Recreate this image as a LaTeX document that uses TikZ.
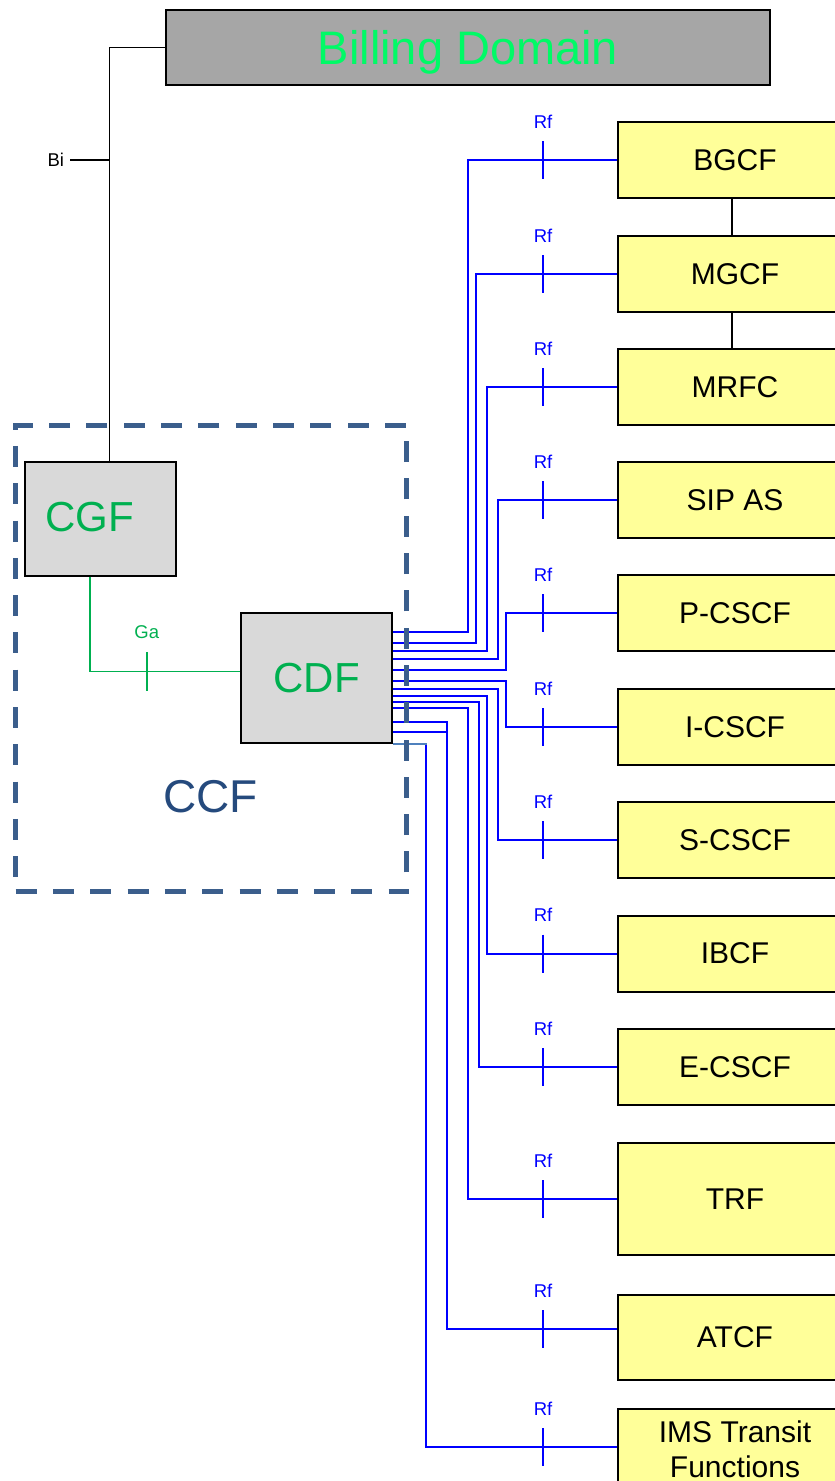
\documentclass[tikz,border=0pt]{standalone}
\usepackage{fontspec}
\setmainfont{Liberation Sans}
\definecolor{boxyellow}{HTML}{FFFF99}
\definecolor{boxgray}{HTML}{D9D9D9}
\definecolor{billgray}{HTML}{A6A6A6}
\definecolor{billgreen}{RGB}{0,250,102}
\definecolor{gagreen}{HTML}{00B050}
\definecolor{rfblue}{HTML}{0000FF}
\definecolor{steelblue}{HTML}{4F81BD}
\definecolor{ccfborder}{HTML}{3B5E8C}
\definecolor{ccftext}{RGB}{37,74,125}
\begin{document}
\begin{tikzpicture}[x=1pt,y=-1pt,
  fbox/.style={draw=black,line width=2pt,fill=boxyellow,minimum width=234pt,minimum height=76pt,inner sep=0pt,font=\fontsize{30}{35}\selectfont,align=center},
  gbox/.style={draw=black,line width=2pt,fill=boxgray,inner sep=0pt},
  rf/.style={draw=rfblue,line width=2pt},
  blk/.style={draw=black,line width=1.6pt},
  ga/.style={draw=gagreen,line width=1.6pt},
  lbl/.style={font=\fontsize{18.5}{20}\selectfont,inner sep=0pt},
  rflbl/.style={lbl,text=rfblue}
]
\fill[white] (0,0) rectangle (835,1481);
\clip (0,0) rectangle (835,1481);

% Billing domain
\node[draw=black,line width=2pt,fill=billgray,minimum width=604pt,minimum height=75.5pt,inner sep=0pt,
      text=billgreen,font=\fontsize{47}{50}\selectfont,text depth=0pt] (billing) at (468,47.3) {Billing Domain};

% right column boxes
\node[fbox] (bgcf)  at (735,160)   {BGCF};
\node[fbox] (mgcf)  at (735,274)   {MGCF};
\node[fbox] (mrfc)  at (735,387)   {MRFC};
\node[fbox] (sipas) at (735,500)   {SIP AS};
\node[fbox] (pcscf) at (735,613)   {P-CSCF};
\node[fbox] (icscf) at (735,727)   {I-CSCF};
\node[fbox] (scscf) at (735,840)   {S-CSCF};
\node[fbox] (ibcf)  at (735,953.5) {IBCF};
\node[fbox] (ecscf) at (735,1067)  {E-CSCF};
\node[fbox,minimum height=112pt] (trf)  at (735,1199)   {TRF};
\node[fbox,minimum height=85pt]  (atcf) at (735,1337.5) {ATCF};
\node[fbox,minimum height=80pt]  (ims)  at (735,1449)   {IMS Transit\\Functions};

\foreach \t in {bgcf,mgcf,mrfc,sipas,pcscf,icscf,scscf,ibcf,ecscf,trf}{
  \coordinate (\t-in) at (\t.west);
}
\coordinate (atcf-in) at ([yshift=8.5pt]atcf.west);
\coordinate (ims-in) at ([yshift=2pt]ims.west);

% black links between BGCF, MGCF, MRFC
\draw[blk] ([xshift=-3pt]bgcf.south) -- ([xshift=-3pt]mgcf.north);
\draw[blk] ([xshift=-3pt]mgcf.south) -- ([xshift=-3pt]mrfc.north);

% CGF and CDF
\node[gbox,minimum width=150.7pt,minimum height=113.4pt] (cgf) at (100.3,519) {};
\node[text=gagreen,font=\fontsize{42}{46}\selectfont,inner sep=0pt] (cgftext) at (90,517) {CGF};
\node[gbox,minimum width=151pt,minimum height=130pt,text=gagreen,font=\fontsize{42}{46}\selectfont] (cdf) at (316.7,678.3) {CDF};

% Bi
\draw[blk] ([xshift=9pt]cgf.north) |- (billing.west);
\coordinate (bij) at (109.3,160);
\draw[blk] (bij) -- ++(-39,0) node[anchor=east,inner sep=0pt,font=\fontsize{18.5}{20}\selectfont,xshift=-5.5pt] (bi) {Bi};

% Ga
\draw[ga] ([xshift=-10.3pt]cgf.south) |- ([yshift=7pt]cdf.west);
\draw[ga] (146.7,671.3) ++(0,-19.3) -- ++(0,38.6);
\node[lbl,text=gagreen,anchor=base] (galbl) at (146.7,638.3) {Ga};

% Rf connectors
\foreach \t/\sh/\xv in {bgcf/46.3/467.5, mgcf/35.3/475.7, mrfc/27.8/486.7, sipas/19.3/497.5,
  pcscf/8.3/506, icscf/-2.7/506, scscf/-10.7/497.7, ibcf/-17.7/486.7, ecscf/-23.2/479.2,
  trf/-29.7/467.7, atcf/-43.2/446.5, ims/-65.2/425.7}{
  \draw[rf] ([yshift=\sh pt]cdf.east) -| (\t-in -| \xv,0) -- (\t-in);
  \draw[rf] (\t-in -| 543,0) ++(0,-19) -- ++(0,38);
  \path (\t-in -| 543,0) ++(0,-32) node[rflbl,anchor=base] (\t-rf) {Rf};
}
\draw[rf] ([yshift=-53.7pt]cdf.east) -| (atcf-in -| 446.5,0);
\draw[draw=steelblue,line width=2pt] ([yshift=-65.2pt]cdf.east) -- ([yshift=-65.2pt,xshift=34pt]cdf.east);

% CCF dashed frame
\node[draw=ccfborder,line width=5pt,dash pattern=on 21pt off 16.3pt,minimum width=391pt,minimum height=466pt,inner sep=0pt] (ccf) at (211.2,658.7) {};
\node[text=ccftext,font=\fontsize{46}{50}\selectfont,inner sep=0pt] (ccflbl) at (210.7,797) {CCF};
\end{tikzpicture}
\end{document}
